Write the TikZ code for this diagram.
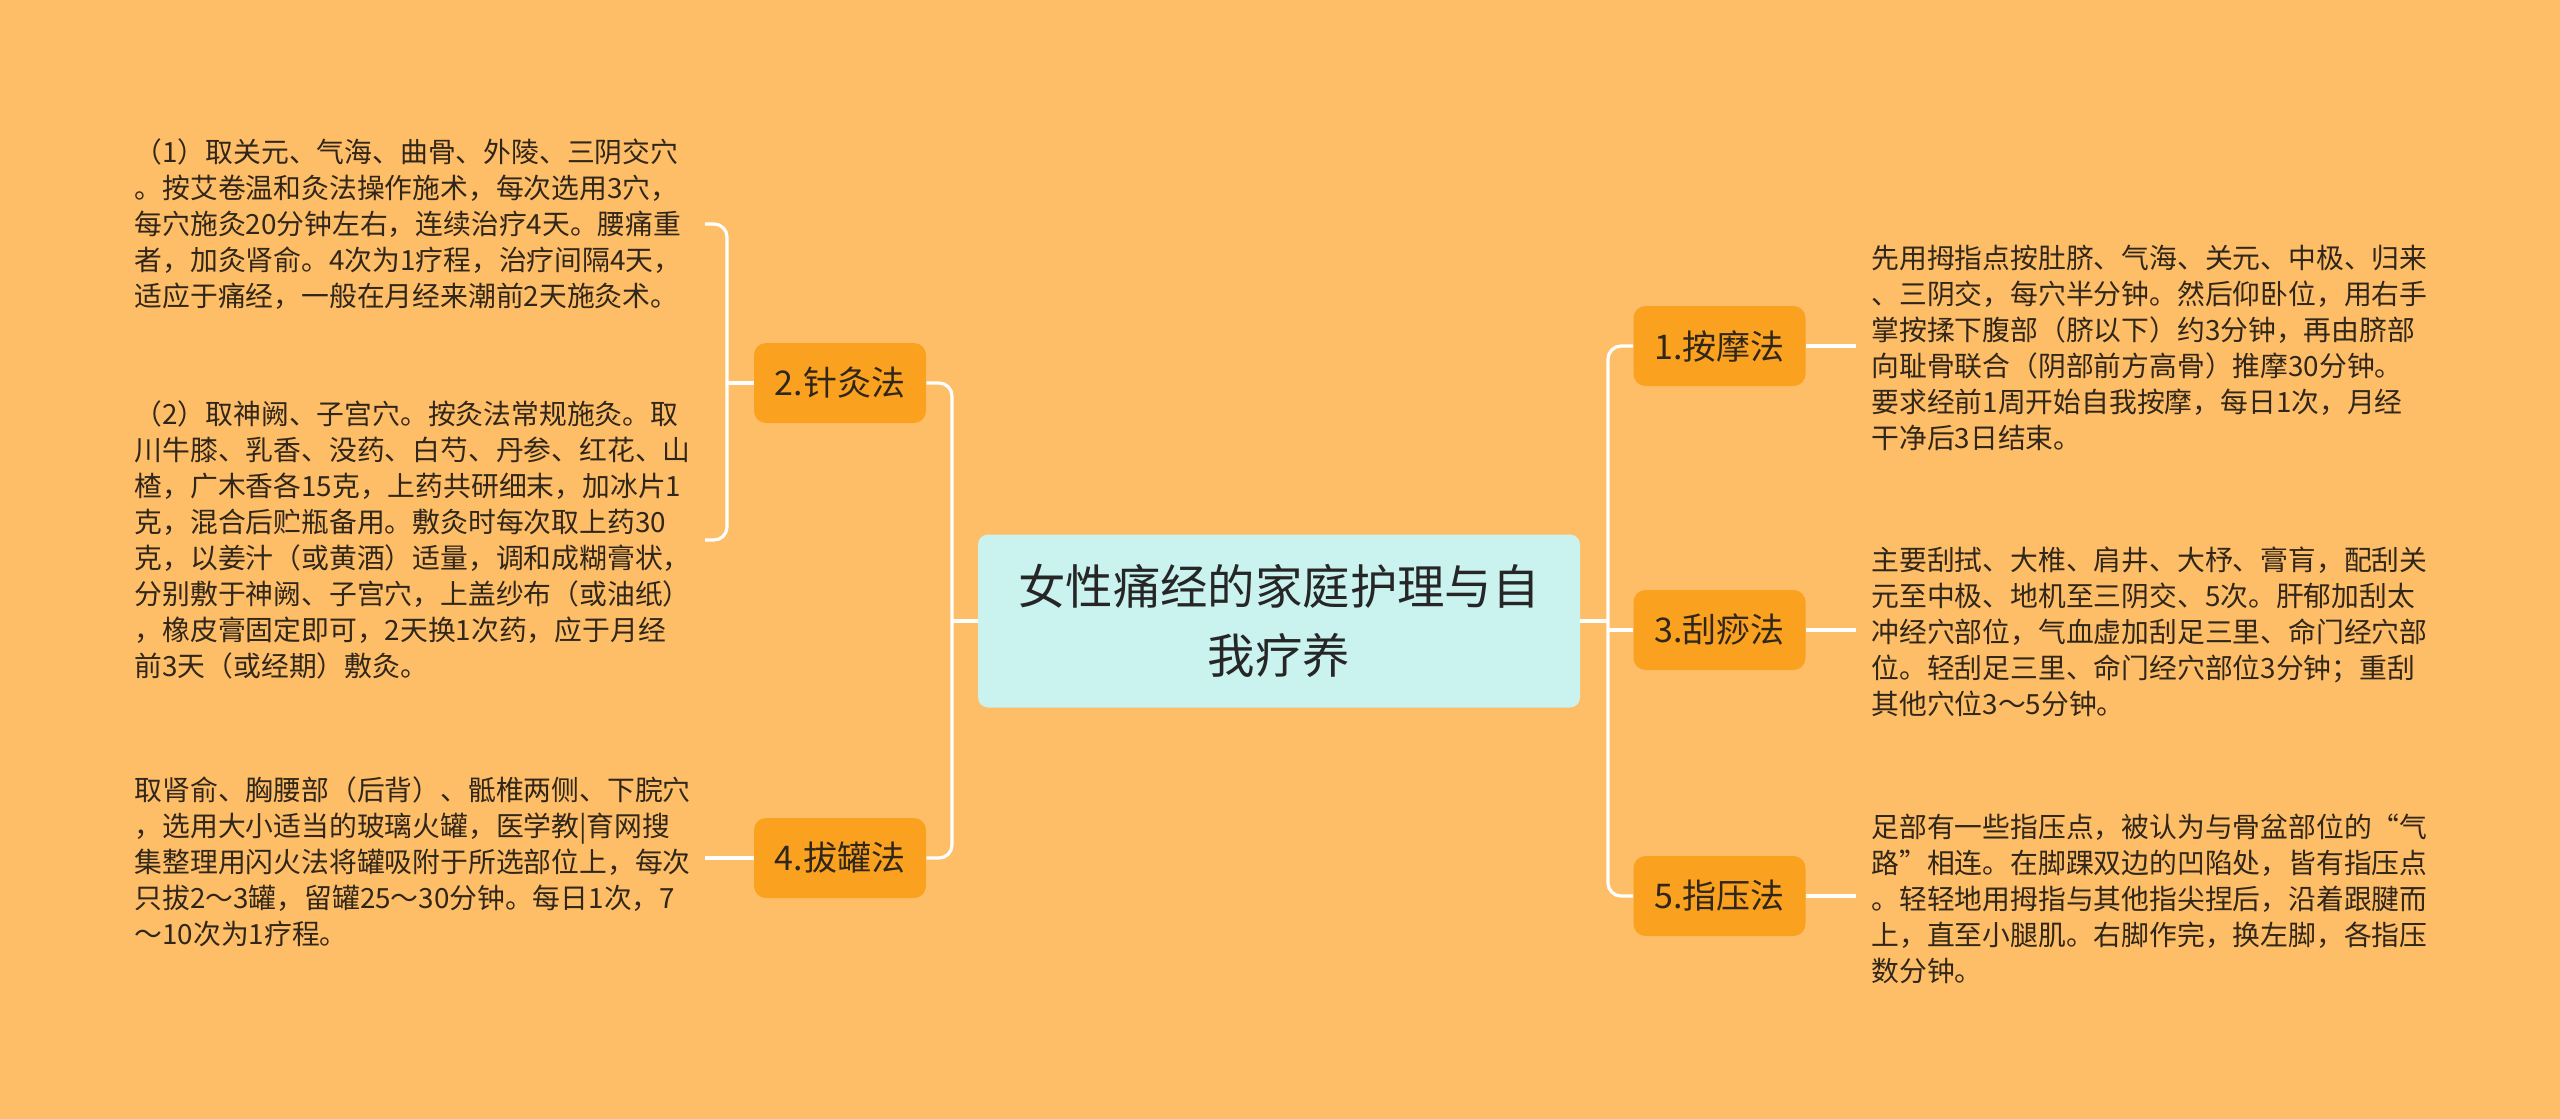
\documentclass[tikz,border=0pt]{standalone}
\usepackage{fontspec}
\setmainfont{Noto Sans CJK SC}
\usetikzlibrary{calc}
\definecolor{bg}{RGB}{254,190,104}
\definecolor{brfill}{RGB}{250,161,32}
\definecolor{ctrfill}{RGB}{202,242,238}
\definecolor{txt}{RGB}{48,38,26}
\definecolor{ttl}{RGB}{38,38,38}
\begin{document}
\begin{tikzpicture}[x=0.5pt,y=-0.5pt,
  conn/.style={draw=white,line width=1.6pt,rounded corners=6.5pt},
  branch/.style={fill=brfill,rounded corners=6pt,minimum width=86pt,minimum height=40pt,inner sep=0pt,text=txt,font=\fontsize{17pt}{20pt}\selectfont},
  center/.style={fill=ctrfill,rounded corners=5pt,minimum width=301pt,minimum height=86.5pt,inner sep=0pt,text width=280pt,align=center,text=ttl,font=\fontsize{23.7pt}{34.3pt}\selectfont},
  leafL/.style={anchor=east,inner sep=0pt,text width=285pt,align=left,text=txt,font=\fontsize{13.9pt}{18pt}\selectfont},
  leafR/.style={anchor=west,inner xsep=7.5pt,inner ysep=0pt,text width=290pt,align=left,text=txt,font=\fontsize{13.9pt}{18pt}\selectfont}]
\fill[bg] (0,0) rectangle (2560,1119);
\useasboundingbox (0,0) rectangle (2560,1119);

\node[center] (c) at (1279,621) {女性痛经的家庭护理与自\\我疗养};

\node[branch] (b2) at (840,383) {2.针灸法};
\node[branch] (b4) at (840,858) {4.拔罐法};
\node[branch] (b1) at (1719.5,346) {1.按摩法};
\node[branch] (b3) at (1719.5,630) {3.刮痧法};
\node[branch] (b5) at (1719.5,896) {5.指压法};

\node[leafL] (l1) at (705,224) {（1）取关元、气海、曲骨、外陵、三阴交穴\\。按艾卷温和灸法操作施术，每次选用3穴，\\每穴施灸20分钟左右，连续治疗4天。腰痛重\\者，加灸肾俞。4次为1疗程，治疗间隔4天，\\适应于痛经，一般在月经来潮前2天施灸术。};
\node[leafL] (l2) at (705,540) {（2）取神阙、子宫穴。按灸法常规施灸。取\\川牛膝、乳香、没药、白芍、丹参、红花、山\\楂，广木香各15克，上药共研细末，加冰片1\\克，混合后贮瓶备用。敷灸时每次取上药30\\克，以姜汁（或黄酒）适量，调和成糊膏状，\\分别敷于神阙、子宫穴，上盖纱布（或油纸）\\，橡皮膏固定即可，2天换1次药，应于月经\\前3天（或经期）敷灸。};
\node[leafL] (l3) at (705,862) {取肾俞、胸腰部（后背）、骶椎两侧、下脘穴\\，选用大小适当的玻璃火罐，医学教|育网搜\\集整理用闪火法将罐吸附于所选部位上，每次\\只拔2～3罐，留罐25～30分钟。每日1次，7\\～10次为1疗程。};

\node[leafR] (r1) at (1856,348) {先用拇指点按肚脐、气海、关元、中极、归来\\、三阴交，每穴半分钟。然后仰卧位，用右手\\掌按揉下腹部（脐以下）约3分钟，再由脐部\\向耻骨联合（阴部前方高骨）推摩30分钟。\\要求经前1周开始自我按摩，每日1次，月经\\干净后3日结束。};
\node[leafR] (r3) at (1856,632) {主要刮拭、大椎、肩井、大杼、膏肓，配刮关\\元至中极、地机至三阴交、5次。肝郁加刮太\\冲经穴部位，气血虚加刮足三里、命门经穴部\\位。轻刮足三里、命门经穴部位3分钟；重刮\\其他穴位3～5分钟。};
\node[leafR] (r5) at (1856,899) {足部有一些指压点，被认为与骨盆部位的“气\\路”相连。在脚踝双边的凹陷处，皆有指压点\\。轻轻地用拇指与其他指尖捏后，沿着跟腱而\\上，直至小腿肌。右脚作完，换左脚，各指压\\数分钟。};

\coordinate (jc) at (952,621);
\coordinate (jr) at (1608,621);
\coordinate (jl) at (727,383);

\draw[conn] (c.west) -- (jc);
\draw[conn] (b2.east) -| (jc) |- (b4.east);
\draw[conn] (c.east) -- (jr);
\draw[conn] (b1.west) -| (jr) |- (b5.west);
\draw[conn] (jr |- b3.west) -- (b3.west);

\draw[conn] (b2.west) -- (jl);
\draw[conn] (l1.east) -| (jl) |- (l2.east);
\draw[conn] (b4.west) -- (l3.east |- b4.west);

\draw[conn] (b1.east) -- (r1.west |- b1.east);
\draw[conn] (b3.east) -- (r3.west |- b3.east);
\draw[conn] (b5.east) -- (r5.west |- b5.east);
\end{tikzpicture}
\end{document}
